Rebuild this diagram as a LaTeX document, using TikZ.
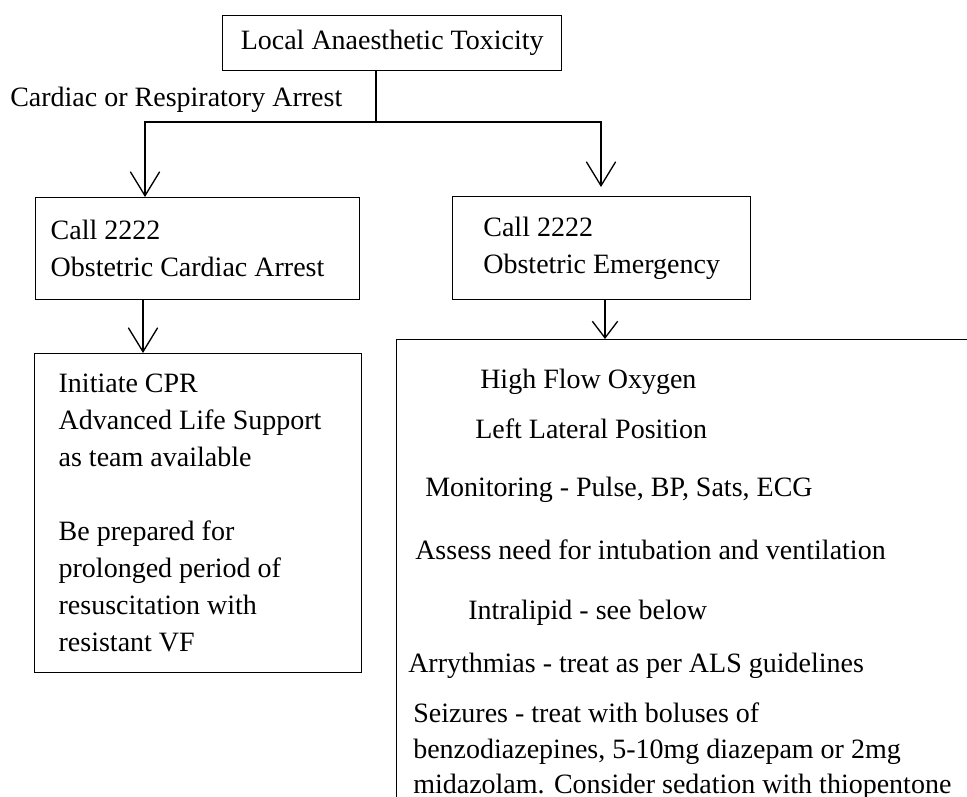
\documentclass[tikz,border=0pt]{standalone}
\usepackage{fontspec}
\setmainfont{Liberation Serif}
\usetikzlibrary{arrows.meta}
\newcommand{\px}{0.75pt}

\begin{document}
\begin{tikzpicture}[x=0.75pt,y=-0.75pt,
  font=\fontsize{21}{27.75}\selectfont,
  panel/.style={draw,line width=1pt,anchor=north west,align=flush left},
  wire/.style={line width=1pt},
  flow/.style={line width=1pt,-{Straight Barb[length=18pt,width=22pt]}},
  smallflow/.style={line width=1pt,-{Straight Barb[length=12.5pt,width=19pt]}},
  txt/.style={anchor=base west,inner sep=0pt}]
\path[use as bounding box,clip] (0,0) rectangle (967,796);
\node[panel,minimum width=339*\px,minimum height=55*\px,inner sep=0pt] (toxic) at (222,15) {Local Anaesthetic Toxicity};
\node[txt] (arrest) at (10,106) {Cardiac or Respiratory Arrest};
\node[panel,inner xsep=15*\px,text width=294*\px,minimum height=102*\px] (cardiac) at (35,197) {Call 2222\\Obstetric Cardiac Arrest};
\node[panel,minimum width=298*\px,minimum height=103*\px] (emerg) at (452,196) {Call 2222\\Obstetric Emergency};
\node[panel,inner xsep=24*\px,text width=279*\px,minimum height=319*\px] (cpr) at (34,353) {Initiate CPR\\Advanced Life Support\\as team available\\[27.75pt]Be prepared for\\prolonged period of\\resuscitation with\\resistant VF};
\node[panel,minimum width=620*\px,minimum height=500*\px] (care) at (396,339) {};
\node[txt] (oxygen) at (480,388) {High Flow Oxygen};
\node[txt] (position) at (475,438) {Left Lateral Position};
\node[txt] (monitor) at (425,496) {Monitoring - Pulse, BP, Sats, ECG};
\node[txt] (airway) at (415,559) {Assess need for intubation and ventilation};
\node[txt] (lipid) at (468,619) {Intralipid - see below};
\node[txt] (rhythm) at (408,672) {Arrythmias - treat as per ALS guidelines};
\node[txt] (seizure) at (413,722) {Seizures - treat with boluses of};
\node[txt] (benzo) at (413,758) {benzodiazepines, 5-10mg diazepam or 2mg};
\node[txt] (sedation) at (413,793) {midazolam. Consider sedation with thiopentone};
\coordinate (split) at (376,122);
\draw[wire] (toxic.south -| split) -- (split);
\draw[flow] (split) -| (145,0 |- cardiac.north);
\draw[flow,shorten >=6.75pt] (split) -| (601,0 |- emerg.north);
\draw[flow] (143,0 |- cardiac.south) -- (143,0 |- cpr.north);
\draw[smallflow] (605,0 |- emerg.south) -- (605,0 |- care.north);
\end{tikzpicture}
\end{document}
